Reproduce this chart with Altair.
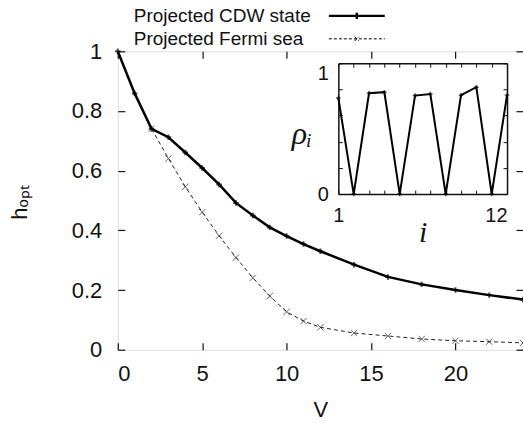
import altair as alt
import pandas as pd

# ---- data ----
V_cdw = [0, 1, 2, 3, 4, 5, 6, 7, 8, 9, 10, 11, 12, 14, 16, 18, 20, 22, 24]
h_cdw = [1.0, 0.859, 0.740, 0.712, 0.661, 0.609, 0.554, 0.492, 0.450, 0.410,
         0.381, 0.354, 0.330, 0.285, 0.244, 0.219, 0.200, 0.183, 0.168]
V_fermi = [2, 3, 4, 5, 6, 7, 8, 9, 10, 11, 12, 14, 16, 18, 20, 22, 24]
h_fermi = [0.740, 0.641, 0.546, 0.461, 0.382, 0.309, 0.241, 0.180, 0.127,
           0.096, 0.075, 0.056, 0.046, 0.036, 0.030, 0.027, 0.023]
site_i = list(range(1, 13))
rho_i = [0.735, 0.0, 0.771, 0.779, 0.0, 0.753, 0.765, 0.0, 0.756, 0.817, 0.0, 0.757]
series_names = ["Projected CDW state", "Projected Fermi sea"]
x_ticks_main = [0, 5, 10, 15, 20]
y_ticks_main = [0, 0.2, 0.4, 0.6, 0.8, 1]
y_ticks_inset = [0, 0.2, 0.4, 0.6, 0.8, 1]
x_labels_inset = [1, 12]
y_labels_inset = [0, 1]

df_cdw = pd.DataFrame({"V": V_cdw, "h": h_cdw})
df_fermi = pd.DataFrame({"V": V_fermi, "h": h_fermi})
df_rho = pd.DataFrame({"i": site_i, "rho": rho_i})
df_leg = pd.DataFrame({"series": series_names})

W, H = 406, 299
# inset frame in plot coordinates
IX0, IX1, IY0, IY1 = 221, 390, 12, 143

SANS = "Liberation Sans"
SERIF = "Liberation Serif"
INK = "#111111"

mx = alt.Scale(domain=[0, 24], nice=False, zero=False)
my = alt.Scale(domain=[0, 1], nice=False, zero=False)
ix = alt.Scale(domain=[1, 12], range=[IX0, IX1], nice=False, zero=False)
iy = alt.Scale(domain=[0, 1], range=[IY1, IY0], nice=False, zero=False)

PLUS = "M0,-1L0,1M-1,0L1,0"
CROSS = "M-1,-1L1,1M-1,1L1,-1"


def tick_axis(orient, values, offset, size, width=1.2):
    return alt.Axis(orient=orient, values=values, offset=offset, domain=False,
                    labels=False, ticks=True, tickSize=size, tickWidth=width,
                    tickColor=INK, grid=False)


def frame_axis(orient, values, offset):
    return alt.Axis(orient=orient, values=values, offset=offset, domain=True,
                    domainColor=INK, domainWidth=1.5, labels=False, ticks=False,
                    tickSize=0, grid=False)


def hidden(df, xf, yf, xs, ys, xa, ya):
    return alt.Chart(df).mark_point(opacity=0).encode(
        x=alt.X(f"{xf}:Q", scale=xs, axis=xa, title=None),
        y=alt.Y(f"{yf}:Q", scale=ys, axis=ya, title=None),
    )


# ---- main plot ----
main_xaxis = alt.Axis(orient="bottom", values=x_ticks_main, domain=False, ticks=False,
                      tickSize=0, labelPadding=14, labelFontSize=22, labelFont=SANS,
                      labelColor=INK, labelOverlap=False, format="~g", grid=False,
                      titleFontSize=22, titleFont=SANS,
                      titleFontWeight="normal", titleColor=INK, titleY=67,
                      titleBaseline="alphabetic")
main_yaxis = alt.Axis(orient="left", values=y_ticks_main, domain=False, ticks=False,
                      tickSize=0, labelPadding=16, labelFontSize=22, labelFont=SANS,
                      labelColor=INK, labelOverlap=False, format="~g", grid=False,
                      titleFontSize=22, titleFont=SANS,
                      titleFontWeight="normal", titleColor=INK, titleX=-98, titleY=151,
                      titleAngle=270, titleAlign="center", titleBaseline="middle")

cdw_line = alt.Chart(df_cdw).mark_line(color="black", strokeWidth=2.5).encode(
    x=alt.X("V:Q", scale=mx, axis=main_xaxis, title="V"),
    y=alt.Y("h:Q", scale=my, axis=main_yaxis, title="hₒₚₜ"),
)
cdw_pts = alt.Chart(df_cdw).mark_point(shape=PLUS, size=30, filled=False,
                                       color="black", strokeWidth=2).encode(
    x=alt.X("V:Q", scale=mx), y=alt.Y("h:Q", scale=my))
fermi_line = alt.Chart(df_fermi).mark_line(color="#222222", strokeWidth=1,
                                           strokeDash=[4, 3]).encode(
    x=alt.X("V:Q", scale=mx), y=alt.Y("h:Q", scale=my))
fermi_pts = alt.Chart(df_fermi).mark_point(shape=CROSS, size=40, filled=False,
                                           color="#222222", strokeWidth=1).encode(
    x=alt.X("V:Q", scale=mx), y=alt.Y("h:Q", scale=my))
main_data = alt.layer(cdw_line, fermi_line, fermi_pts, cdw_pts)

main_ticks_a = hidden(df_cdw, "V", "h", mx, my,
                      tick_axis("bottom", x_ticks_main, -7, 7),
                      tick_axis("left", y_ticks_main, -7, 7))
main_ticks_b = hidden(df_cdw, "V", "h", mx, my,
                      tick_axis("top", x_ticks_main, -7, 7),
                      tick_axis("right", y_ticks_main, -7, 7))

# ---- inset ----
inset_xaxis = alt.Axis(orient="bottom", values=x_labels_inset, offset=-(H - IY1),
                       domain=True, domainColor=INK, domainWidth=1.5, ticks=False,
                       tickSize=0, labelFlush=False, labelOverlap=False, format="~g",
                       labelAlign={"condition": {"test": "datum.value == 12", "value": "right"},
                                   "value": "center"},
                       labelPadding=12, labelFontSize=20, labelFont=SANS, labelColor=INK,
                       grid=False, titleFont=SERIF, titleFontStyle="italic",
                       titleFontWeight="normal", titleFontSize=30, titleColor=INK,
                       titleY=48, titleBaseline="alphabetic")
inset_yaxis = alt.Axis(orient="left", values=y_labels_inset, offset=-IX0, domain=True,
                       domainColor=INK, domainWidth=1.5, ticks=False, tickSize=0,
                       labelBaseline={"condition": {"test": "datum.value == 1", "value": "top"},
                                      "value": "middle"},
                       labelOverlap=False, format="~g",
                       labelPadding=10, labelFontSize=20, labelFont=SANS, labelColor=INK,
                       grid=False, titleFont=SERIF, titleFontStyle="italic",
                       titleFontWeight="normal", titleFontSize=32, titleColor=INK,
                       titleAngle=0, titleX=-37, titleY=82, titleAlign="center",
                       titleBaseline="middle")

inset_line = alt.Chart(df_rho).mark_line(color="black", strokeWidth=2).encode(
    x=alt.X("i:Q", scale=ix, axis=inset_xaxis, title="i"),
    y=alt.Y("rho:Q", scale=iy, axis=inset_yaxis, title="ρᵢ"),
)
inset_pts = alt.Chart(df_rho).mark_point(shape=PLUS, size=20, filled=False,
                                         color="black", strokeWidth=1.5).encode(
    x=alt.X("i:Q", scale=ix), y=alt.Y("rho:Q", scale=iy))
inset_data = alt.layer(inset_line, inset_pts)

inset_frame = hidden(df_rho, "i", "rho", ix, iy,
                     frame_axis("top", site_i, -IY0),
                     frame_axis("right", y_ticks_inset, -(W - IX1)))
inset_ticks_a = hidden(df_rho, "i", "rho", ix, iy,
                       tick_axis("bottom", site_i, -(H - IY1) - 4, 4, 1),
                       tick_axis("left", y_ticks_inset, -IX0 - 4, 4, 1))
inset_ticks_b = hidden(df_rho, "i", "rho", ix, iy,
                       tick_axis("top", site_i, -IY0 - 4, 4, 1),
                       tick_axis("right", y_ticks_inset, -(W - IX1) - 4, 4, 1))

# ---- key (legend) ----
key = alt.Legend(orient="none", legendX=230, legendY=-45, title=None, symbolSize=196,
                 symbolOpacity=1, symbolStrokeColor="black", labelFontSize=19,
                 labelFont=SANS, labelColor=INK, labelAlign="left",
                 labelOffset={"expr": "-233"},
                 labelLimit=400, rowPadding=3, padding=0)
legend_layer = alt.Chart(df_leg).mark_point(opacity=0, filled=False, color="black").encode(
    shape=alt.Shape("series:N", scale=alt.Scale(domain=series_names,
                                                range=["M-4,0L4,0M0,-0.45L0,0.45",
                                                       "M-4,0L4,0M-0.3,-0.3L0.3,0.3M-0.3,0.3L0.3,-0.3"]),
                    legend=key),
    strokeDash=alt.StrokeDash("series:N", scale=alt.Scale(domain=series_names,
                                                          range=[[1, 0], [3, 2]]),
                              legend=key),
    strokeWidth=alt.StrokeWidth("series:O", scale=alt.Scale(domain=series_names,
                                                            range=[2.5, 1]),
                                legend=key),
)

chart = alt.layer(
    main_ticks_a, main_ticks_b, inset_frame, inset_ticks_a, inset_ticks_b,
    legend_layer, inset_data, main_data,
).resolve_scale(x="independent", y="independent").properties(
    width=W, height=H,
    autosize=alt.AutoSizeParams(type="none"),
    padding={"left": 118, "top": 51, "right": 0, "bottom": 73},
).configure_view(stroke="#222222", strokeWidth=1.5).configure(background="white")

chart.save("out.html", embed_options={"renderer": "svg", "actions": False})
